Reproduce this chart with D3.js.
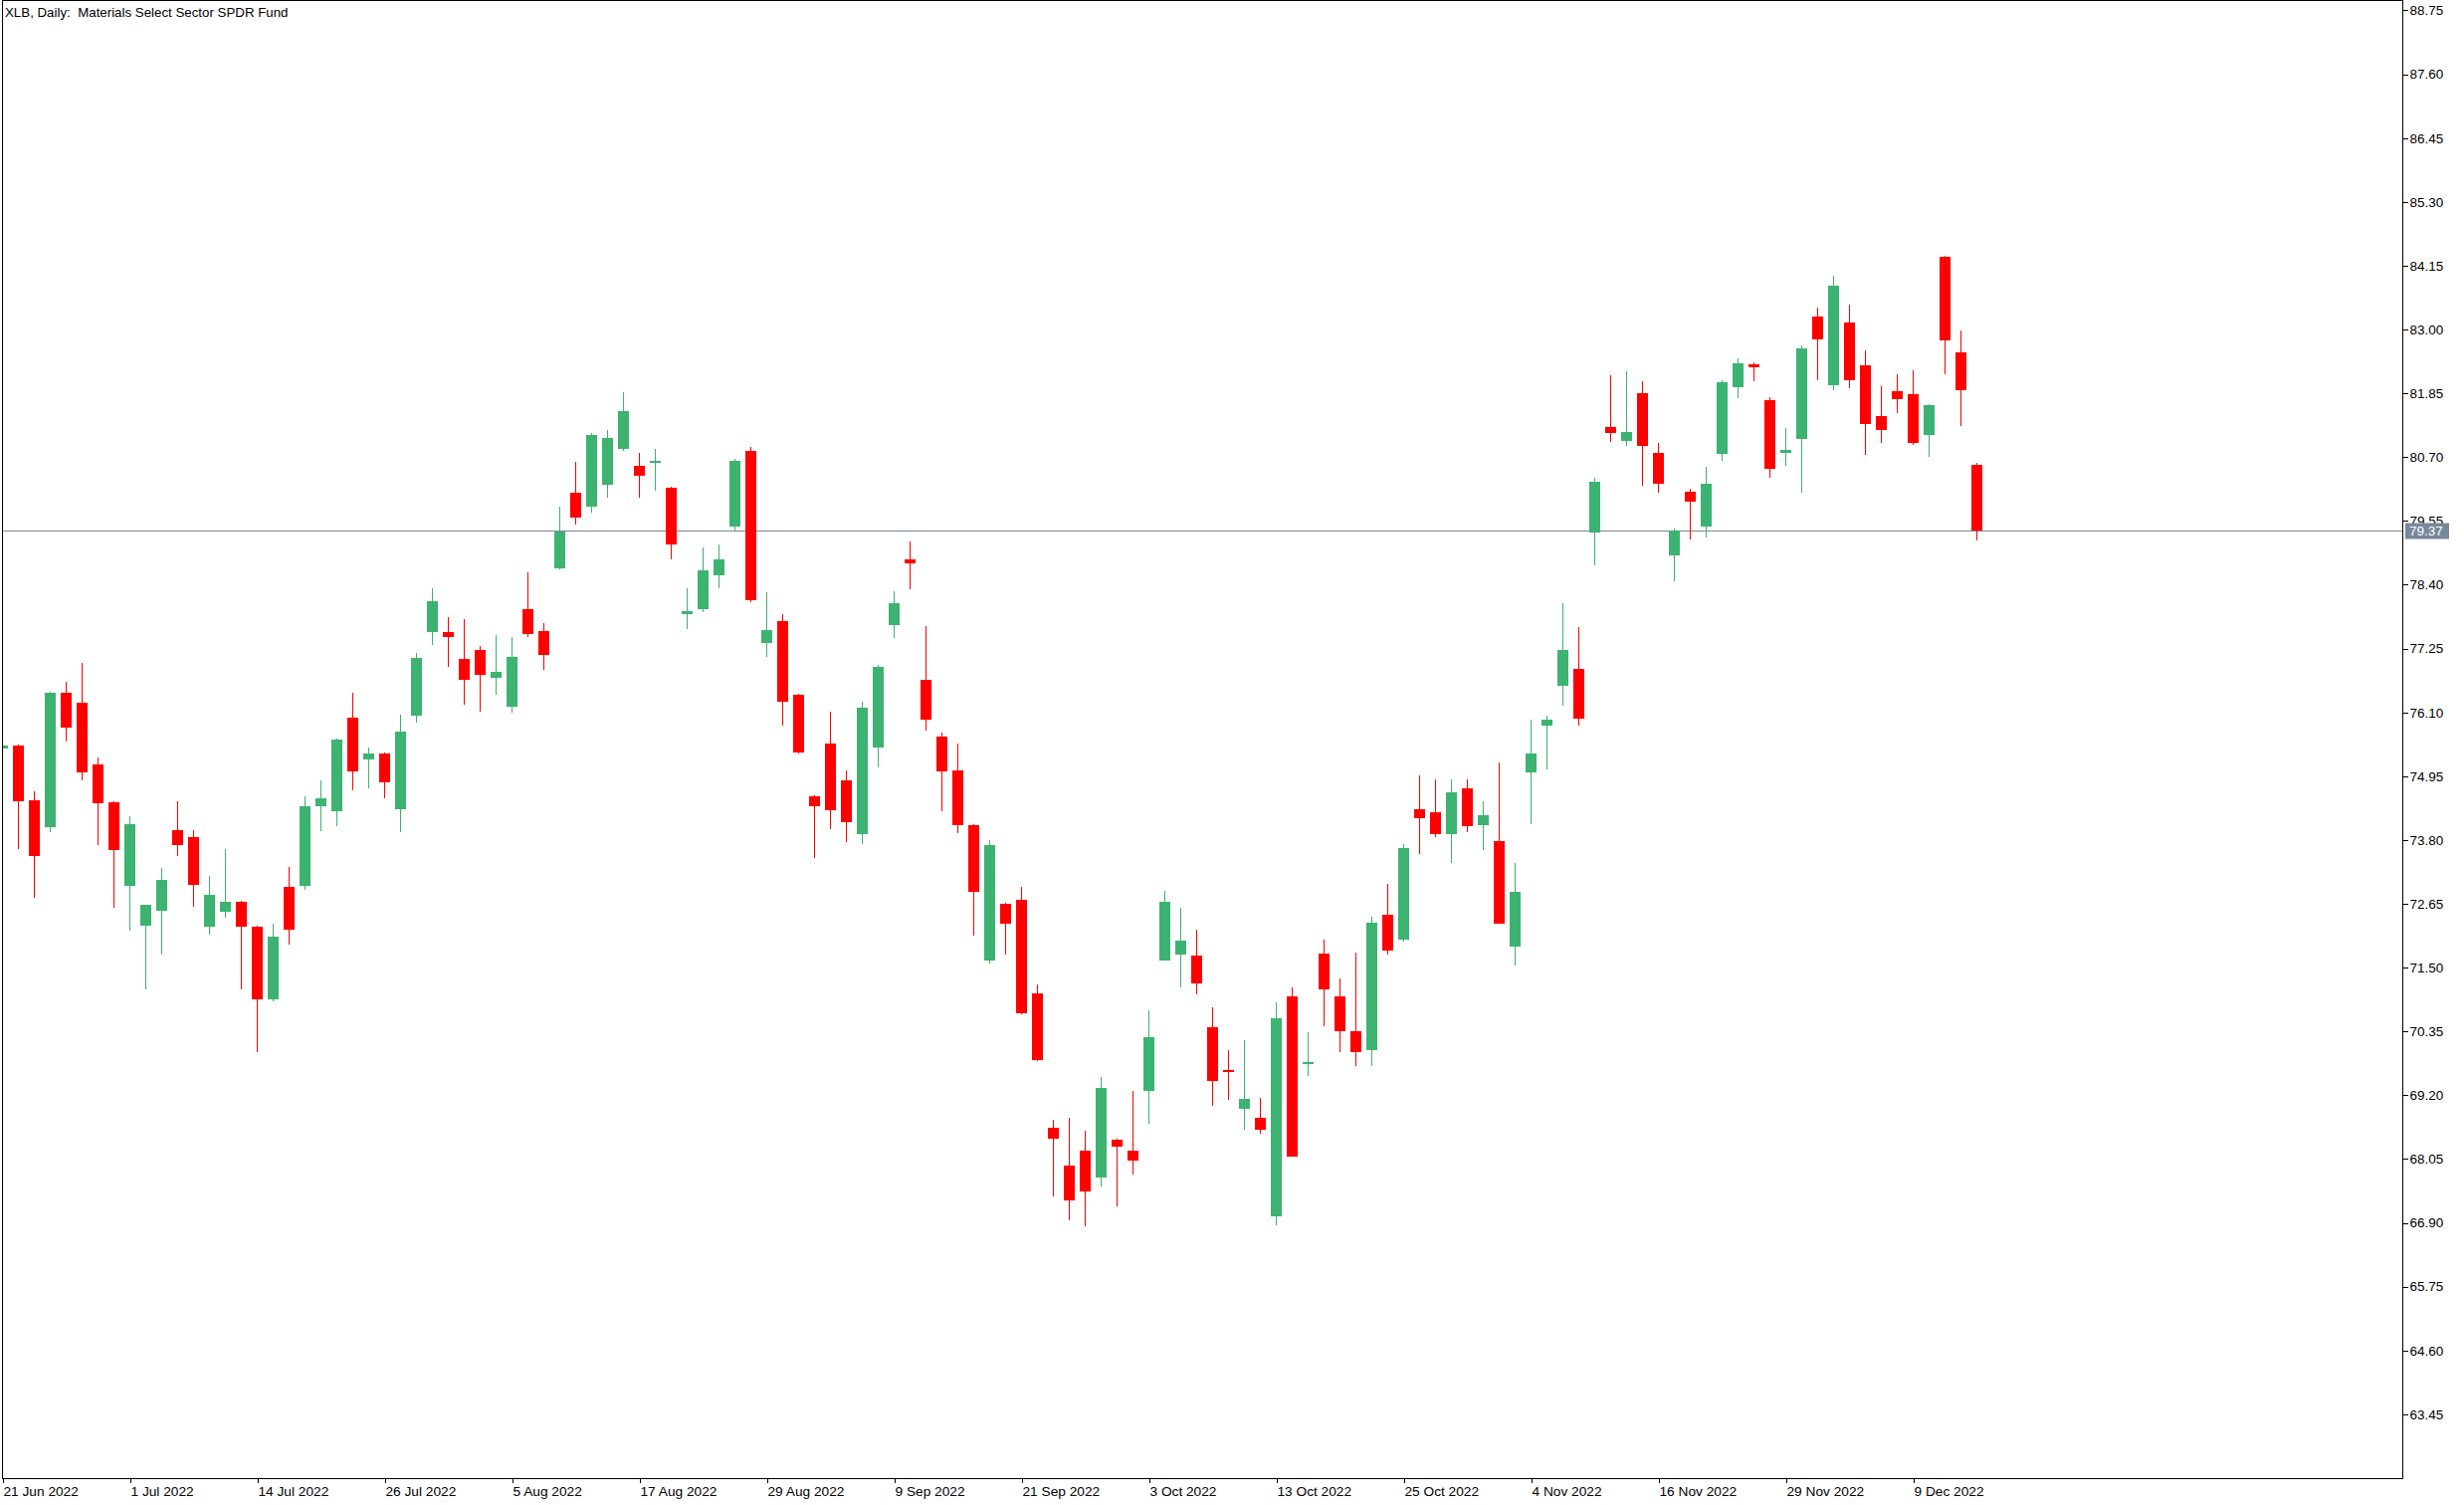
<!DOCTYPE html>
<html>
<head>
<meta charset="utf-8">
<script src="https://cdn.jsdelivr.net/npm/d3@7"></script>
<style>
  html, body { margin: 0; padding: 0; background: #fff; }
  svg { display: block; }
  text { font-family: "Liberation Sans", Arial, sans-serif; fill: #000; }
</style>
</head>
<body>
<svg id="chart" width="2476" height="1512"></svg>
<script>
const title = "XLB, Daily:  Materials Select Sector SPDR Fund";

const dates = [
"2022-06-21","2022-06-22","2022-06-23","2022-06-24","2022-06-27","2022-06-28","2022-06-29","2022-06-30",
"2022-07-01","2022-07-05","2022-07-06","2022-07-07","2022-07-08","2022-07-11","2022-07-12","2022-07-13",
"2022-07-14","2022-07-15","2022-07-18","2022-07-19","2022-07-20","2022-07-21","2022-07-22","2022-07-25",
"2022-07-26","2022-07-27","2022-07-28","2022-07-29","2022-08-01","2022-08-02","2022-08-03","2022-08-04",
"2022-08-05","2022-08-08","2022-08-09","2022-08-10","2022-08-11","2022-08-12","2022-08-15","2022-08-16",
"2022-08-17","2022-08-18","2022-08-19","2022-08-22","2022-08-23","2022-08-24","2022-08-25","2022-08-26",
"2022-08-29","2022-08-30","2022-08-31","2022-09-01","2022-09-02","2022-09-06","2022-09-07","2022-09-08",
"2022-09-09","2022-09-12","2022-09-13","2022-09-14","2022-09-15","2022-09-16","2022-09-19","2022-09-20",
"2022-09-21","2022-09-22","2022-09-23","2022-09-26","2022-09-27","2022-09-28","2022-09-29","2022-09-30",
"2022-10-03","2022-10-04","2022-10-05","2022-10-06","2022-10-07","2022-10-10","2022-10-11","2022-10-12",
"2022-10-13","2022-10-14","2022-10-17","2022-10-18","2022-10-19","2022-10-20","2022-10-21","2022-10-24",
"2022-10-25","2022-10-26","2022-10-27","2022-10-28","2022-10-31","2022-11-01","2022-11-02","2022-11-03",
"2022-11-04","2022-11-07","2022-11-08","2022-11-09","2022-11-10","2022-11-11","2022-11-14","2022-11-15",
"2022-11-16","2022-11-17","2022-11-18","2022-11-21","2022-11-22","2022-11-23","2022-11-25","2022-11-28",
"2022-11-29","2022-11-30","2022-12-01","2022-12-02","2022-12-05","2022-12-06","2022-12-07","2022-12-08",
"2022-12-09","2022-12-12","2022-12-13","2022-12-14","2022-12-15"];

const open = [
75.45,75.50,74.52,74.04,76.45,76.27,75.16,74.48,72.98,72.26,72.52,73.98,73.85,72.24,72.51,72.69,
72.24,70.92,72.96,72.98,74.40,74.32,76.00,75.25,75.36,74.35,76.04,77.55,77.55,77.06,77.22,76.73,
76.21,77.96,77.56,78.70,80.06,79.81,80.21,80.85,80.54,80.60,80.15,77.87,77.96,78.57,79.44,80.81,
77.35,77.74,76.42,74.59,75.54,74.88,73.90,75.46,77.67,78.86,76.69,75.67,75.05,74.07,71.62,72.65,
72.73,71.04,68.62,67.93,68.20,67.71,68.40,68.20,69.28,71.63,71.74,71.72,70.43,69.65,68.96,68.79,
67.02,70.98,69.76,71.75,70.98,70.35,70.02,72.45,72.01,74.35,74.30,73.91,74.73,74.07,73.78,71.87,
75.02,75.87,76.57,76.88,79.35,81.24,81.00,81.85,80.77,78.93,80.07,79.44,80.76,81.96,82.37,81.72,
80.78,81.03,83.23,82.00,83.12,82.35,81.44,81.89,81.83,81.10,84.31,82.59,80.56];

const high = [
75.52,75.52,74.68,76.47,76.65,76.99,75.29,74.49,74.23,72.63,73.30,74.50,73.98,73.15,73.64,72.70,
72.25,72.29,73.31,74.59,74.87,75.62,76.45,75.47,75.37,76.06,77.17,78.33,77.81,77.78,77.30,77.49,
77.46,78.62,77.71,79.81,80.61,81.13,81.19,81.87,80.77,80.85,80.17,78.33,79.07,79.12,80.67,80.88,
78.26,77.87,76.43,74.60,76.11,75.05,76.29,76.95,78.28,79.18,77.66,75.73,75.54,74.08,73.80,72.66,
72.96,71.20,68.76,68.80,68.56,69.53,68.41,69.28,70.73,72.88,72.58,72.18,70.79,70.01,70.19,69.15,
70.87,71.14,70.34,72.00,71.30,71.77,72.42,73.01,73.73,74.96,74.89,74.89,74.89,74.50,75.20,73.39,
75.97,76.04,78.07,77.64,80.33,82.17,82.25,82.07,80.95,79.41,80.13,80.52,82.08,82.48,82.41,81.78,
81.22,82.71,83.39,83.97,83.45,82.62,81.98,82.19,82.26,81.65,84.33,82.98,80.60];

const low = [
75.43,73.64,72.76,73.95,75.57,74.88,73.70,72.57,72.17,71.10,71.74,73.51,72.60,72.09,72.40,71.11,
69.97,70.90,71.92,72.91,73.96,74.05,74.69,74.73,74.55,73.94,75.91,77.32,76.92,76.24,76.12,76.42,
76.10,77.46,76.87,78.68,79.49,79.70,79.96,80.82,79.96,80.10,78.86,77.61,77.91,78.34,79.38,78.09,
77.09,75.87,75.36,73.48,74.00,73.76,73.72,75.11,77.44,78.31,75.78,74.31,73.92,72.08,71.58,71.73,
70.66,69.81,67.38,66.95,66.83,67.55,67.19,67.78,68.69,71.62,71.15,71.02,69.00,69.12,68.57,68.50,
66.85,68.09,69.55,70.44,69.97,69.72,69.72,71.74,71.97,73.55,73.86,73.39,73.95,73.62,72.29,71.54,
74.09,75.08,76.22,75.87,78.75,80.98,80.91,80.19,80.05,78.47,79.22,79.26,80.64,81.77,82.07,80.33,
80.54,80.05,82.08,81.91,81.95,80.74,80.96,81.50,80.92,80.71,82.20,81.26,79.20];

const close = [
75.50,74.50,73.52,76.45,75.83,75.01,74.47,73.62,74.08,72.63,73.08,73.71,73.00,72.81,72.69,72.23,
70.92,72.06,72.19,74.41,74.55,75.61,75.04,75.36,74.84,75.75,77.08,78.10,77.46,76.69,76.78,76.83,
77.10,77.52,77.14,79.36,79.61,81.10,81.04,81.53,80.37,80.63,79.13,77.92,78.66,78.86,80.63,78.13,
77.58,76.30,75.38,74.40,74.33,74.13,76.19,76.92,78.07,78.78,75.96,75.04,74.06,72.86,73.71,72.30,
70.67,69.83,68.41,67.30,67.46,69.34,68.27,68.02,70.25,72.69,71.99,71.22,69.45,69.62,69.13,68.57,
70.59,68.10,69.80,71.11,70.36,69.97,72.31,71.80,73.65,74.20,73.91,74.66,74.05,74.25,72.30,72.87,
75.36,75.97,77.22,75.99,80.25,81.14,81.15,80.91,80.22,79.37,79.90,80.22,82.05,82.39,82.32,80.49,
80.83,82.66,82.82,83.79,82.09,81.30,81.19,81.75,80.96,81.64,82.81,81.91,79.37];

const dateTicks = ["2022-06-21","2022-07-01","2022-07-14","2022-07-26","2022-08-05","2022-08-17",
"2022-08-29","2022-09-09","2022-09-21","2022-10-03","2022-10-13","2022-10-25","2022-11-04",
"2022-11-16","2022-11-29","2022-12-09"];
const dateTickLabels = ["21 Jun 2022","1 Jul 2022","14 Jul 2022","26 Jul 2022","5 Aug 2022","17 Aug 2022",
"29 Aug 2022","9 Sep 2022","21 Sep 2022","3 Oct 2022","13 Oct 2022","25 Oct 2022","4 Nov 2022",
"16 Nov 2022","29 Nov 2022","9 Dec 2022"];
const priceTicks = [88.75,87.60,86.45,85.30,84.15,83.00,81.85,80.70,79.55,78.40,77.25,76.10,74.95,
73.80,72.65,71.50,70.35,69.20,68.05,66.90,65.75,64.60,63.45];
const priceDomain = [62.30, 88.92];

const upColor = "#3cb371", downColor = "#ff0000", bidColor = "#778899";

const svg = d3.select("#chart");
const plot = {left: 2.5, top: 0.5, right: 2414.5, bottom: 1485.5};
const barStep = 16, bodyW = 11;

const x = d3.scalePoint().domain(dates)
  .range([plot.left, plot.left + barStep * (dates.length - 1)]);
const y = d3.scaleLinear().domain(priceDomain).range([1485, 1]);

const bars = dates.map((d, i) => ({d, o: open[i], h: high[i], l: low[i], c: close[i]}));

svg.append("defs").append("clipPath").attr("id", "clip")
  .append("rect").attr("x", plot.left).attr("y", plot.top)
  .attr("width", plot.right - plot.left).attr("height", plot.bottom - plot.top);

// bid line
const last = close[close.length - 1];
const yb = Math.round(y(last)) + 0.5;
svg.append("line").attr("x1", plot.left).attr("x2", plot.right)
  .attr("y1", yb).attr("y2", yb).attr("stroke", bidColor).attr("stroke-width", 1);

const g = svg.append("g").attr("clip-path", "url(#clip)").attr("shape-rendering", "crispEdges");
const cg = g.selectAll("g.c").data(bars).join("g").attr("class", "c");
cg.append("line")
  .attr("x1", b => x(b.d)).attr("x2", b => x(b.d))
  .attr("y1", b => y(b.h)).attr("y2", b => y(b.l))
  .attr("stroke", b => b.c >= b.o ? upColor : downColor).attr("stroke-width", 1);
cg.append("rect")
  .attr("x", b => x(b.d) - bodyW / 2)
  .attr("width", bodyW)
  .attr("y", b => y(Math.max(b.o, b.c)))
  .attr("height", b => Math.max(2, y(Math.min(b.o, b.c)) - y(Math.max(b.o, b.c))))
  .attr("fill", b => b.c >= b.o ? upColor : downColor);

// frame
svg.append("rect").attr("x", plot.left).attr("y", plot.top)
  .attr("width", plot.right - plot.left).attr("height", plot.bottom - plot.top)
  .attr("fill", "none").attr("stroke", "#000").attr("stroke-width", 1);

// right axis
const ya = svg.append("g").attr("transform", `translate(${plot.right},0)`)
  .call(d3.axisRight(y).tickValues(priceTicks).tickSize(5).tickPadding(2).tickFormat(d3.format(".2f")));
ya.select(".domain").remove();
ya.selectAll("line").attr("stroke", "#000").attr("shape-rendering", "crispEdges");
ya.selectAll("text").attr("font-size", 13.5).attr("font-family", "Liberation Sans, Arial, sans-serif").attr("fill", "#000");

// bottom axis
const labelMap = new Map(dateTicks.map((d, i) => [d, dateTickLabels[i]]));
const xa = svg.append("g").attr("transform", `translate(0,${plot.bottom})`)
  .call(d3.axisBottom(x).tickValues(dateTicks).tickSize(4).tickPadding(4).tickFormat(d => labelMap.get(d)));
xa.select(".domain").remove();
xa.selectAll("line").attr("stroke", "#000").attr("shape-rendering", "crispEdges");
xa.selectAll("text").attr("text-anchor", "start").attr("x", 0.5)
  .attr("font-size", 13.7).attr("font-family", "Liberation Sans, Arial, sans-serif").attr("fill", "#000");

// current price label
const lb = svg.append("g").attr("transform", `translate(${plot.right + 2.5},${yb})`);
lb.append("rect").attr("x", 0).attr("y", -8).attr("width", 44).attr("height", 16).attr("fill", bidColor);
lb.append("text").attr("x", 4).attr("y", 0).attr("dy", "0.36em")
  .attr("font-size", 13.5).style("fill", "#fff").text(d3.format(".2f")(last));

// title
svg.append("text").attr("x", 5).attr("y", 17).attr("font-size", 13.3)
  .style("white-space", "pre").text(title);
</script>
</body>
</html>
